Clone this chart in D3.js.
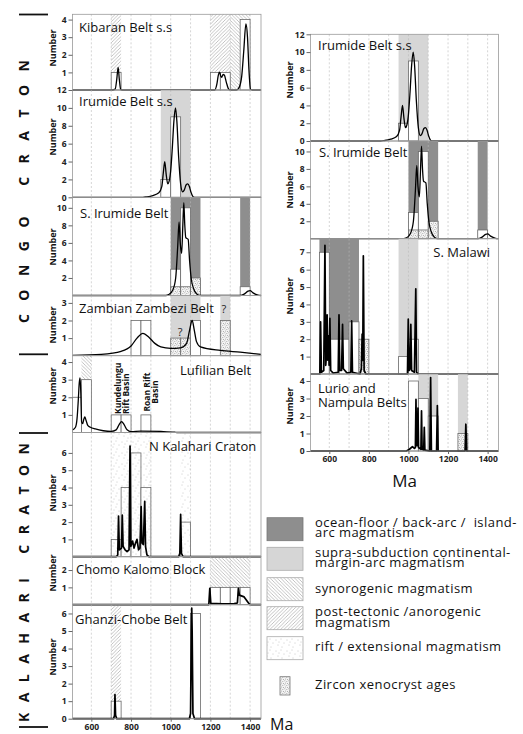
<!DOCTYPE html>
<html>
<head>
<meta charset="utf-8">
<script src="https://cdn.jsdelivr.net/npm/d3@7"></script>
<style>
  body { margin: 0; background: #fff; }
  svg text { font-family: "Open Sans", "Noto Sans", sans-serif; }
</style>
</head>
<body>
<div id="chart"></div>
<script>
// ---- data (ages in Ma, counts per 50 Ma bin) ----
const ageDomain = [505, 1455];
const gridAges = [600, 700, 800, 900, 1000, 1100, 1200, 1300, 1400];
const xTickAges = [600, 800, 1000, 1200, 1400];

// Kibaran Belt s.s
const kibaranBands = [[700, 750, "post"], [1200, 1300, "post"], [1300, 1400, "syn"]];
const kibaranBars = [[700, 750, 1], [1200, 1250, 1], [1250, 1300, 1], [1350, 1400, 4]];
const kibaranCurve = [[505,0],[705,0],[720,0.05],[728,0.6],[735,1.28],[741,0.6],[748,0.03],[755,0],[1222,0],[1232,0.3],[1240,0.85],[1246,1.02],[1252,0.8],[1257,0.72],[1264,0.88],[1270,0.85],[1280,0.45],[1292,0.05],[1300,0],[1332,0],[1345,0.15],[1358,0.8],[1368,2.2],[1379,3.75],[1387,3.0],[1394,1.2],[1402,0.05],[1410,0],[1455,0]];

// Irumide Belt s.s (drawn in both columns)
const irumideBands = [[950, 1100, "margin"]];
const irumideBars = [[950, 1000, 2], [1000, 1050, 9]];
const irumideCurve = [[505,0],[860,0],[878,0.05],[910,0.2],[940,0.5],[955,1.2],[963,2.8],[970,4.0],[977,2.6],[985,1.5],[992,1.8],[1000,3.0],[1008,5.5],[1016,8.5],[1024,10],[1031,8.5],[1040,4.5],[1050,1.5],[1060,0.6],[1068,0.8],[1078,1.4],[1086,1.5],[1094,1.2],[1103,0.5],[1113,0.05],[1120,0],[1455,0]];

// S. Irumide Belt (drawn in both columns)
const sIrumideBands = [[1000, 1150, "arc"], [1350, 1400, "arc"]];
const sIrumideBars = [[1000, 1050, 3], [1050, 1100, 10], [1350, 1400, 1]];
const sIrumideZircon = [[1000, 1050, 1], [1050, 1100, 1], [1100, 1150, 2]];
const sIrumideCurve = [[505,0],[975,0],[990,0.1],[1010,0.6],[1025,2],[1035,5.5],[1042,8.4],[1048,6],[1055,4.8],[1061,8],[1066,10.6],[1071,8],[1076,6.6],[1088,6.4],[1095,4],[1103,2],[1115,0.8],[1130,0.2],[1148,0],[1350,0],[1370,0.15],[1390,0.5],[1400,0.55],[1415,0.3],[1440,0.05],[1455,0]];

// Zambian Zambezi Belt
const zambeziBands = [[1000, 1150, "margin"], [1250, 1300, "margin"]];
const zambeziBars = [[800, 850, 2], [850, 900, 2], [1100, 1150, 2]];
const zambeziZircon = [[1000, 1050, 1], [1050, 1100, 1], [1250, 1300, 2]];
const zambeziQueries = [[1047, 1.1], [1268, 2.45]];
const zambeziCurve = [[505,0.02],[650,0.08],[750,0.25],[800,0.55],[830,1.0],[860,1.27],[890,1.05],[920,0.7],[950,0.5],[1000,0.42],[1050,0.45],[1080,0.7],[1096,1.5],[1108,2.0],[1118,1.5],[1130,0.8],[1150,0.5],[1250,0.3],[1350,0.2],[1455,0.08]];

// Lufilian Belt
const lufilianBands = [[550, 600, "syn"]];
const lufilianBars = [[505, 550, 2], [550, 600, 3], [700, 750, 1], [750, 800, 1], [850, 900, 1]];
const lufilianCurve = [[505,0.15],[520,0.3],[528,0.8],[534,1.8],[539,2.8],[543,3.1],[547,2.2],[551,0.6],[556,0.5],[562,0.75],[567,0.88],[573,0.7],[582,0.4],[595,0.3],[620,0.2],[660,0.1],[700,0.06],[725,0.15],[740,0.45],[752,0.62],[765,0.45],[780,0.15],[800,0.05],[850,0.08],[950,0.06],[1020,0.02],[1035,0],[1455,0]];

// N Kalahari Craton
const nKalahariBands = [[700, 900, "rift"], [1050, 1100, "rift"]];
const nKalahariBars = [[700, 750, 1], [750, 800, 4], [800, 850, 6], [850, 900, 4], [1050, 1100, 2]];
const nKalahariCurve = [[505,0],[725,0],[733,0.1],[737,2.35],[741,0.4],[752,0.5],[756,2.4],[760,0.6],[770,0.4],[780,0.3],[790,0.4],[795,6.4],[799,0.6],[808,0.9],[815,0.5],[823,0.8],[830,1.0],[838,0.4],[845,0.5],[851,2.9],[855,0.8],[862,0.7],[869,3.2],[873,0.6],[880,0.1],[890,0],[1040,0],[1046,0.2],[1050,2.45],[1054,0.2],[1062,0],[1455,0]];

// Chomo Kalomo Block
const chomoBands = [[1200, 1400, "syn"]];
const chomoBars = [[1200, 1250, 1], [1250, 1300, 1], [1300, 1350, 1], [1350, 1400, 1]];
const chomoCurve = [[505,0],[1192,0],[1197,0.95],[1202,0.08],[1260,0.05],[1320,0.06],[1336,0.1],[1341,0.95],[1346,0.55],[1370,0.45],[1392,0.1],[1400,0],[1455,0]];

// Ghanzi-Chobe Belt
const ghanziBands = [[700, 750, "post"]];
const ghanziBars = [[700, 750, 1], [1100, 1150, 6]];
const ghanziCurve = [[505,0],[712,0],[717,0.2],[719,1.38],[722,0.2],[728,0],[1094,0],[1100,0.3],[1104,5],[1106,6.3],[1108,5],[1112,0.3],[1120,0],[1455,0]];

// S. Malawi
const sMalawiBands = [[550, 750, "arc"], [950, 1050, "margin"]];
const sMalawiBars = [[550, 600, 7], [600, 650, 2], [650, 700, 2], [700, 750, 3], [950, 1000, 1], [1000, 1050, 2]];
const sMalawiZircon = [[750, 800, 2]];
const sMalawiCurve = [[505,0],[552,0],[556,3.0],[560,0.1],[572,0.2],[578,7.4],[582,0.5],[585,1.0],[589,3.4],[592,0.8],[596,2.2],[599,0.5],[603,3.2],[607,0.2],[620,0.05],[645,0.1],[649,3.4],[653,0.2],[662,0.2],[667,2.85],[671,0.3],[690,0.05],[709,0.1],[713,3.05],[717,0.1],[755,0],[762,0.3],[766,2.3],[769,0.8],[772,6.8],[776,0.2],[785,0],[995,0],[999,3.15],[1003,0.2],[1008,0.3],[1012,2.85],[1016,0.2],[1030,0.1],[1037,4.9],[1041,0.1],[1050,0],[1455,0]];

// Lurio and Nampula Belts
const lurioBands = [[1050, 1150, "margin"], [1250, 1300, "margin"]];
const lurioBars = [[1000, 1050, 4], [1050, 1100, 3], [1100, 1150, 2]];
const lurioZircon = [[1250, 1300, 1]];
const lurioCurve = [[505,0],[990,0],[1005,0.1],[1020,0.25],[1030,0.15],[1035,0.2],[1038,2.95],[1041,0.3],[1045,0.3],[1048,2.45],[1051,0.2],[1063,0.1],[1066,2.3],[1069,0.1],[1077,0.05],[1080,1.35],[1083,0.05],[1108,0],[1112,4.2],[1116,0],[1142,0],[1146,2.6],[1150,0],[1286,0],[1290,1.53],[1294,0],[1455,0]];

// legend
const legendItems = [
  { type: "arc", lines: ["ocean-floor / back-arc /  island-", "arc magmatism"] },
  { type: "margin", lines: ["supra-subduction continental-", "margin-arc magmatism"] },
  { type: "syn", lines: ["synorogenic magmatism"] },
  { type: "post", lines: ["post-tectonic /anorogenic", "magmatism"] },
  { type: "rift", lines: ["rift / extensional magmatism"] },
  { type: "zircon", lines: ["Zircon xenocryst ages"] }
];

// ---- layout ----
const cols = { L: [72.5, 261], R: [310.5, 498.5] };
const panels = [
  { col: "L", top: 14.3, bottom: 90, ymax: 4.3, ticks: [1,2,3,4], titles: [["Kibaran Belt s.s", 79, 32]], numY: 48,
    bands: kibaranBands, bars: kibaranBars, zircon: [], curve: kibaranCurve },
  { col: "L", top: 90, bottom: 197.3, ymax: 12, ticks: [0,2,4,6,8,10,12], titles: [["Irumide Belt s.s", 79, 106]], numY: 137,
    bands: irumideBands, bars: irumideBars, zircon: [], curve: irumideCurve },
  { col: "L", top: 197.3, bottom: 295.5, ymax: 11.2, ticks: [2,4,6,8,10], titles: [["S. Irumide Belt", 80, 218]], numY: 247,
    bands: sIrumideBands, bars: sIrumideBars, zircon: sIrumideZircon, curve: sIrumideCurve },
  { col: "L", top: 295.5, bottom: 355.7, ymax: 3.42, ticks: [1,2,3], titles: [["Zambian Zambezi Belt", 79, 313]], numY: 325,
    bands: zambeziBands, bars: zambeziBars, zircon: zambeziZircon, curve: zambeziCurve, queries: zambeziQueries },
  { col: "L", top: 355.7, bottom: 432.5, ymax: 4.36, ticks: [1,2,3,4], titles: [["Lufilian Belt", 180, 375]], numY: 386,
    bands: lufilianBands, bars: lufilianBars, zircon: [], curve: lufilianCurve, basins: true },
  { col: "L", top: 432.5, bottom: 556.7, ymax: 7.18, ticks: [1,2,3,4,5,6], titles: [["N Kalahari Craton", 149, 451]], numY: 493,
    bands: nKalahariBands, bars: nKalahariBars, zircon: [], curve: nKalahariCurve, spiky: true },
  { col: "L", top: 556.7, bottom: 604.7, ymax: 2.77, ticks: [1,2], titles: [["Chomo Kalomo Block", 76, 574]], numY: 573,
    bands: chomoBands, bars: chomoBars, zircon: [], curve: chomoCurve, spiky: true },
  { col: "L", top: 604.7, bottom: 718.7, ymax: 6.5, ticks: [0,1,2,3,4,5,6], titles: [["Ghanzi-Chobe Belt", 75, 624]], numY: 657,
    bands: ghanziBands, bars: ghanziBars, zircon: [], curve: ghanziCurve, spiky: true, xAxis: true },
  { col: "R", top: 34.3, bottom: 141, ymax: 12, ticks: [0,2,4,6,8,10,12], titles: [["Irumide Belt s.s", 318, 50]], numY: 80,
    bands: irumideBands, bars: irumideBars, zircon: [], curve: irumideCurve },
  { col: "R", top: 141, bottom: 238.7, ymax: 11.2, ticks: [2,4,6,8,10], titles: [["S. Irumide Belt", 319, 157]], numY: 190,
    bands: sIrumideBands, bars: sIrumideBars, zircon: sIrumideZircon, curve: sIrumideCurve },
  { col: "R", top: 238.7, bottom: 374, ymax: 7.78, ticks: [1,2,3,4,5,6,7], titles: [["S. Malawi", 490, 257, "end"]], numY: 296,
    bands: sMalawiBands, bars: sMalawiBars, zircon: sMalawiZircon, curve: sMalawiCurve, spiky: true },
  { col: "R", top: 374, bottom: 451, ymax: 4.4, ticks: [0,1,2,3,4], titles: [["Lurio and", 318, 393], ["Nampula Belts", 318, 406.5]], numY: 406,
    bands: lurioBands, bars: lurioBars, zircon: lurioZircon, curve: lurioCurve, spiky: true, xAxis: true }
];

const svg = d3.select("#chart").append("svg")
  .attr("width", 523).attr("height", 734);

// ---- patterns ----
const defs = svg.append("defs");
function hatch(id, d) {
  const p = defs.append("pattern").attr("id", id)
    .attr("patternUnits", "userSpaceOnUse").attr("width", 3.5).attr("height", 3.5);
  p.append("path").attr("d", d).attr("stroke", "#9c9c9c").attr("stroke-width", 0.6);
}
hatch("syn", "M0,0L3.5,3.5M-1,2.5L1,4.5M2.5,-1L4.5,1");
hatch("post", "M0,3.5L3.5,0M-1,1L1,-1M2.5,4.5L4.5,2.5");

const rift = defs.append("pattern").attr("id", "rift")
  .attr("patternUnits", "userSpaceOnUse").attr("width", 11).attr("height", 11);
[[1,2],[6,1],[9,5],[3,7],[7,9],[4,4]].forEach(([cx, cy]) =>
  rift.append("circle").attr("cx", cx).attr("cy", cy).attr("r", 0.45).attr("fill", "#8a8a8a"));

const zirc = defs.append("pattern").attr("id", "zircon")
  .attr("patternUnits", "userSpaceOnUse").attr("width", 4).attr("height", 4);
zirc.append("rect").attr("width", 4).attr("height", 4).attr("fill", "#f4f4f4");
[[0.8,0.8],[2.8,1.6],[1.6,3.0],[3.5,3.5]].forEach(([cx, cy]) =>
  zirc.append("circle").attr("cx", cx).attr("cy", cy).attr("r", 0.5).attr("fill", "#9a9a9a"));

const bandFill = { arc: "#8e8e8e", margin: "#d6d6d6", syn: "url(#syn)", post: "url(#post)", rift: "url(#rift)", zircon: "url(#zircon)" };

// ---- panels ----
panels.forEach(p => {
  const x = d3.scaleLinear().domain(ageDomain).range(cols[p.col]);
  const y = d3.scaleLinear().domain([0, p.ymax]).range([p.bottom, p.top]);
  const g = svg.append("g");
  const [x0, x1] = cols[p.col];

  const bandRect = (sel, list) => sel.selectAll(null).data(list).enter().append("rect")
    .attr("x", d => x(Math.max(d[0], ageDomain[0])))
    .attr("width", d => x(d[1]) - x(Math.max(d[0], ageDomain[0])))
    .attr("y", p.top).attr("height", p.bottom - p.top)
    .attr("fill", d => bandFill[d[2]]);

  bandRect(g, p.bands.filter(b => b[2] === "arc" || b[2] === "margin"));
  bandRect(g, p.bands.filter(b => b[2] === "syn" || b[2] === "post"));

  // dashed grid
  g.selectAll(null).data(gridAges).enter().append("line")
    .attr("x1", d => x(d)).attr("x2", d => x(d))
    .attr("y1", p.top).attr("y2", p.bottom)
    .attr("stroke", "#b8b8b8").attr("stroke-width", 0.6).attr("stroke-dasharray", "2,2");

  // histogram
  const barRect = (list, fill) => g.selectAll(null).data(list).enter().append("rect")
    .attr("x", d => x(Math.max(d[0], ageDomain[0])))
    .attr("width", d => x(d[1]) - x(Math.max(d[0], ageDomain[0])))
    .attr("y", d => y(d[2])).attr("height", d => y(0) - y(d[2]))
    .attr("fill", fill).attr("stroke", "#6a6a6a").attr("stroke-width", 0.8);
  barRect(p.bars, "#fff");
  barRect(p.zircon, "url(#zircon)");

  bandRect(g, p.bands.filter(b => b[2] === "rift"));

  // probability curve
  const line = d3.line().x(d => x(d[0])).y(d => y(d[1]))
    .curve(p.spiky ? d3.curveLinear : d3.curveMonotoneX);
  g.append("path").datum(p.curve).attr("d", line)
    .attr("fill", "none").attr("stroke", "#000")
    .attr("stroke-width", p.spiky ? 1.7 : 1.3).attr("stroke-linejoin", "round");

  // frame
  g.append("rect").attr("x", x0).attr("y", p.top)
    .attr("width", x1 - x0).attr("height", p.bottom - p.top)
    .attr("fill", "none").attr("stroke", "#9a9a9a").attr("stroke-width", 0.8);

  // y axis
  const ya = g.append("g").attr("transform", `translate(${x0},0)`)
    .call(d3.axisLeft(y).tickValues(p.ticks).tickSize(4).tickPadding(2).tickFormat(d3.format("d")));
  ya.select(".domain").remove();
  ya.selectAll("line").attr("stroke", "#666");
  ya.selectAll("text").attr("font-size", 8.5).attr("font-weight", 700).attr("fill", "#222");

  if (p.xAxis) {
    const xa = g.append("g").attr("transform", `translate(0,${p.bottom})`)
      .call(d3.axisBottom(x).tickValues(xTickAges).tickSize(3).tickPadding(2).tickFormat(d3.format("d")));
    xa.select(".domain").remove();
    xa.selectAll("line").attr("stroke", "#666");
    xa.selectAll("text").attr("font-size", 8.5).attr("font-weight", 700).attr("fill", "#222");
  }

  // titles
  p.titles.forEach(([t, tx, ty, anchor]) =>
    g.append("text").attr("x", tx).attr("y", ty).attr("font-size", 13)
      .attr("text-anchor", anchor || "start").attr("fill", "#111").text(t));

  // "Number"
  const nx = p.col === "L" ? 55.5 : 292.5;
  g.append("text").attr("transform", `translate(${nx},${p.numY}) rotate(-90)`)
    .attr("text-anchor", "middle").attr("font-size", 9).attr("font-weight", 700)
    .attr("fill", "#111").text("Number");

  if (p.queries) {
    g.selectAll(null).data(p.queries).enter().append("text")
      .attr("x", d => x(d[0])).attr("y", d => y(d[1]))
      .attr("text-anchor", "middle").attr("font-size", 11).attr("fill", "#222").text("?");
  }

  if (p.basins) {
    // two-line rotated labels, one text element each
    const basin = (lines, bx, by, anchor) => {
      const t = g.append("text").attr("transform", `translate(${bx},${by}) rotate(-90)`)
        .attr("text-anchor", anchor).attr("font-size", 8.5).attr("font-weight", 700).attr("fill", "#111");
      lines.forEach((s, i) => t.append("tspan").attr("x", 0).attr("y", i * 8).text(s));
    };
    basin(["Kundelungu", "Rift Basin"], 120.5, 414, "start");
    basin(["Roan Rift", "Basin"], 150, 392, "middle");
  }
});

// ---- axis unit labels ----
svg.append("text").attr("x", 404.5).attr("y", 487).attr("text-anchor", "middle")
  .attr("font-size", 17).attr("fill", "#111").text("Ma");
svg.append("text").attr("x", 270).attr("y", 730)
  .attr("font-size", 16).attr("fill", "#111").text("Ma");

// ---- craton labels ----
const cratons = [
  { name: "C O N G O   C R A T O N", start: 323, end: 60, bars: [14.5, 354.3] },
  { name: "K A L A H A R I   C R A T O N", start: 722, end: 443, bars: [433, 727] }
];
cratons.forEach(c => {
  svg.append("text").attr("transform", `translate(28.5,${c.start}) rotate(-90)`)
    .attr("font-size", 14).attr("font-weight", 700).attr("fill", "#111")
    .attr("textLength", c.start - c.end).attr("lengthAdjust", "spacing")
    .style("white-space", "pre").text(c.name);
  c.bars.forEach(by => svg.append("line").attr("x1", 19).attr("x2", 48)
    .attr("y1", by).attr("y2", by).attr("stroke", "#111").attr("stroke-width", 1.8));
});

// ---- legend ----
const lg = svg.append("g");
const swatchTops = [517.7, 547.3, 577.7, 606.7, 636.7];
const baselines = [526.5, 556.8, 592.7, 616.2, 650.7, 689];
legendItems.forEach((it, i) => {
  if (it.type === "zircon") {
    lg.append("rect").attr("x", 280).attr("y", 676.7).attr("width", 10).attr("height", 18.3)
      .attr("fill", bandFill.zircon).attr("stroke", "#777").attr("stroke-width", 0.8);
  } else {
    lg.append("rect").attr("x", 267).attr("y", swatchTops[i]).attr("width", 36).attr("height", 23)
      .attr("fill", bandFill[it.type])
      .attr("stroke", it.type === "arc" ? "#777" : "#aaa").attr("stroke-width", 0.8);
  }
  const t = lg.append("text").attr("x", 315).attr("y", baselines[i])
    .attr("font-size", 13).attr("letter-spacing", 0.45).attr("fill", "#111")
    .style("white-space", "pre");
  it.lines.forEach((s, j) =>
    t.append("tspan").attr("x", 315).attr("dy", j === 0 ? 0 : 10.5).text(s));
});
</script>
</body>
</html>
